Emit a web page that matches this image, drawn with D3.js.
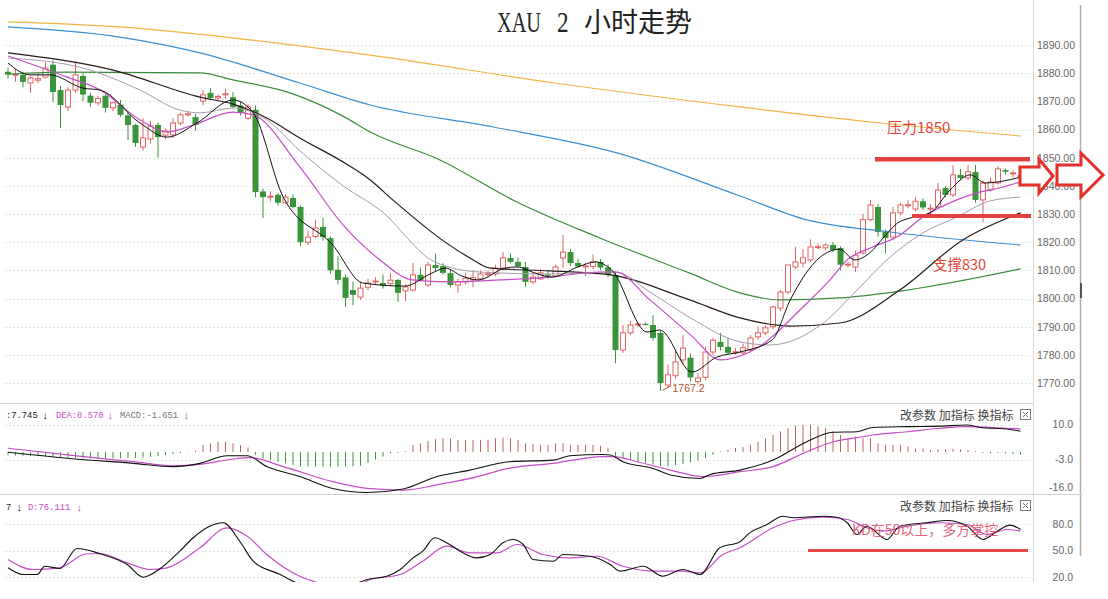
<!DOCTYPE html>
<html><head><meta charset="utf-8">
<script src="https://cdn.jsdelivr.net/npm/d3@7"></script>
<style>body{margin:0;background:#fff;}svg{display:block;}</style>
</head><body>
<svg id="c" width="1108" height="599"></svg>
<script>
// ---------- DATA ----------
const open = [
1880.5,1879.5,1879.4,1876.5,1877.5,1878.6,1883,1874,1868,1874,
1879,1872,1869.5,1872,1867.7,1868.8,1865,1861.6,1853.8,1856.6,
1861.6,1858,1858.1,1862.3,1865.2,1864.4,1870.1,1873,1871.2,1872.3,
1871.5,1868.5,1864,1867,1838,1836,1836.8,1834,1835.7,1832.5,
1820,1822,1825.4,1821.4,1810.2,1807.5,1803,1800.5,1804,1806.2,
1805.5,1805.3,1806.6,1802.7,1803,1808.4,1804.8,1811.9,1811.5,1809,
1804.8,1805.9,1806.6,1807,1808.7,1808.7,1810.8,1814.4,1813,1811.2,
1805.9,1807,1808.5,1808,1814.4,1816.5,1812.6,1811.3,1811.4,1813,
1811,1808.4,1781.7,1787.8,1790.8,1791,1790.6,1787.8,1769.3,1772.6,
1778.2,1779,1770.5,1772,1781,1784.6,1782.8,1781,1780.7,1781.7,
1786.4,1787.8,1790,1796.6,1802.3,1811.2,1812.6,1813.7,1818.3,1818,
1819,1817.9,1812,1811.2,1816.2,1828,1832.5,1823.6,1821.8,1830.4,
1833.2,1831.8,1834.5,1832,1832.5,1839.2,1836.8,1843.9,1842.8,1844.9,
1835,1838.5,1841,1845.6,1844.5,1843.5];
const high = [
1882,1881.5,1880.5,1879,1880,1884,1884.5,1875.5,1875,1883.6,
1880,1873,1872,1872.5,1870,1870.5,1866,1862,1864,1863,
1862.5,1860.5,1864,1866,1866.5,1865.5,1874,1874.7,1872.5,1874.5,
1873.3,1870,1869,1868.5,1839,1838,1837.5,1837,1837,1833,
1824,1828,1828.6,1822,1815,1808.5,1806,1806,1807,1807.5,
1808.5,1809,1807,1805,1812.6,1811,1813,1816,1812.5,1810.5,
1807,1809,1810,1810,1810,1812,1816.5,1816,1814.5,1813,
1809,1810.5,1810,1812,1822.6,1817.5,1814,1812.5,1815.6,1814,
1812,1809.5,1790.6,1792,1791.5,1791.5,1794,1788.5,1776.5,1781.7,
1787,1780.5,1773.5,1783,1786,1787.8,1786,1782.5,1784,1787,
1790,1790.5,1797.5,1803,1812,1818.3,1817.5,1821,1819.5,1819.5,
1820,1818.5,1813,1817,1830,1835,1833.5,1824.5,1832.5,1834,
1835,1836,1835.5,1833.5,1841,1840,1847.4,1846,1847.4,1847.4,
1842,1843,1847,1846,1845.5,1844];
const low = [
1878,1877,1875,1873,1876.5,1878,1869.8,1860.5,1866.5,1873,
1870,1868,1868.5,1866,1866.5,1864.5,1856.3,1853.8,1852.5,1855,
1850,1856.5,1857,1861.5,1864.5,1859.5,1868.5,1870.5,1870.5,1871,
1867.5,1865,1863.5,1836,1828.6,1834.5,1833,1833.5,1832,1818.6,
1819,1821.5,1820.5,1808.8,1805,1797,1797.6,1799.5,1803,1805,
1803.5,1804.5,1798.8,1799,1802.5,1806,1804,1809.5,1808.5,1804,
1802,1805,1804,1806.5,1807.5,1808,1810,1812.5,1811,1804.1,
1805,1806.5,1807,1807.5,1810.8,1811.5,1811,1808,1810.5,1810,
1807.5,1777,1780.7,1787,1790,1790.5,1785,1767.2,1768.5,1771.5,
1777,1770.5,1769.5,1771,1780,1781.5,1780,1780,1780,1781,
1785.5,1787,1789,1795.5,1801.5,1810.5,1811,1813,1817.5,1817,
1816.5,1810,1811,1809.4,1815.5,1827.5,1822,1816,1821,1829.5,
1832,1831,1831.5,1830,1832,1836,1836,1842,1842,1834,
1827,1838,1840.5,1844,1843,1843];
const close = [
1879.5,1879.6,1876.9,1878.3,1878,1881.8,1873.3,1868.7,1874,1879.4,
1872.4,1869.5,1871,1867.7,1869.5,1865.2,1861.6,1855.2,1857,1861.2,
1857.3,1859.5,1862.3,1865.2,1865.6,1861.6,1872.3,1871.2,1871.7,1872.7,
1868,1865.9,1868,1837.8,1836,1836.3,1834,1836,1832.5,1820,
1821.8,1825,1821.8,1810,1806.6,1800.2,1801.3,1803.7,1805.5,1806.2,
1804.5,1806.5,1802,1804.1,1808.4,1806.6,1811.9,1810.8,1809.1,1804.8,
1806,1807.2,1807.5,1808.7,1808.8,1810.8,1814.4,1813,1811.5,1805.9,
1807.6,1809.1,1808.2,1811.2,1816.5,1812.6,1811.4,1811.6,1813,1811,
1808.4,1781.7,1787.8,1790.6,1791,1790.9,1786,1770,1772.9,1777.5,
1782.4,1772,1771.8,1781,1785.2,1782.8,1780.7,1781.1,1782.5,1786,
1787.8,1789.6,1797,1802.3,1811.9,1813,1814.4,1818.3,1818.4,1819,
1817.2,1812,1812.2,1815.4,1828,1833.2,1823.6,1821.5,1830.4,1833.2,
1833.3,1834.5,1832.3,1832.1,1838.5,1836.8,1843.9,1842.8,1845,1835,
1841,1841.4,1846,1845,1844.6,1843.6];

// moving averages [candle index, price]
const ma5 = [[0,1883.6],[2.9,1879.4],[5.6,1879.4],[10,1874.7],[12.3,1874],[17.6,1862.3],[21.2,1857.3],[25.2,1862.3],[30,1870.5],[32.7,1865.9],[36.7,1836],[43.3,1819],[47.3,1805.5],[52.9,1804.4],[56.5,1809],[58.3,1810.8],[60.5,1808],[62.7,1806.6],[66.3,1810.8],[68,1811.2],[69.9,1809.4],[72.5,1807.6],[76,1811.2],[78.3,1813],[80.5,1810.1],[85.2,1788.1],[86.9,1788.8],[91.2,1773.9],[94.5,1779.2],[97.6,1781],[101.9,1785.3],[104.3,1799.5],[108.3,1814.7],[110.9,1817.5],[112.9,1813.7],[114.9,1816.2],[116.8,1821.8],[118.6,1826.8],[120.3,1828.6],[123,1830.5],[125.6,1838.5],[128.3,1843.9],[130.3,1841],[132.3,1841.5],[135,1843.1]];
const ma10 = [[0,1886.1],[7.9,1878.6],[12.3,1874],[17.6,1863.4],[21.2,1859.1],[24.7,1861.6],[30,1866.2],[32.7,1865.2],[38.9,1846.7],[44.9,1825.4],[49.6,1813.7],[53.9,1806.6],[58.9,1805.9],[65.6,1806.6],[72.3,1807.6],[78.9,1809.4],[81,1809.4],[85.6,1799.5],[91,1787.1],[95,1778.2],[99.9,1782.4],[106,1797],[109.6,1806.6],[111.9,1813.7],[115.3,1818.3],[118.5,1821.8],[122,1828.9],[126.5,1835],[129.2,1837.5],[132.7,1839.6],[135,1841.4]];
const ma20 = [[0,1885.4],[10,1881.8],[17.6,1874],[22.9,1866.9],[25.6,1865.9],[30,1867.6],[34.5,1863.4],[38.9,1852.5],[44.9,1839.6],[49.6,1831.4],[56.9,1813],[62.9,1809.4],[72.3,1808.7],[81,1809.4],[85.6,1802.3],[91,1793.1],[97.6,1784.6],[101.6,1783.5],[108.7,1791.3],[113.2,1803],[117.6,1814.7],[122,1823.3],[126.5,1828.9],[130.9,1834.6],[135,1836]];
const ma30 = [[0,1887.2],[14,1881.1],[25.6,1871.5],[30,1869],[34.5,1864.1],[38.9,1857],[44.9,1848.1],[48.3,1842.1],[51.3,1835],[61.6,1814.4],[64.3,1810.8],[72.3,1809.8],[80.3,1808.4],[90.9,1799.5],[97.6,1793.1],[104.3,1790.2],[110.9,1791.3],[118.9,1803],[127.3,1820.8],[135,1830.4]];
const ma60 = [[0,1879.7],[7.9,1880.4],[25.6,1880.1],[30,1877.6],[37.6,1873],[44.9,1864.4],[48.3,1859.1],[57.6,1849.2],[67.3,1835],[78.9,1821.5],[90.9,1809],[97.6,1802],[102.9,1799.5],[110.9,1800.2],[119.9,1803],[135,1810.5]];
const ma120 = [[0,1896.4],[14.9,1892.8],[25.6,1887.2],[38.9,1876.5],[48.3,1868.7],[64.7,1860.9],[81.2,1851.7],[97.6,1836.4],[106.5,1827.9],[117.6,1823.6],[135,1819]];
const ma250 = [[0,1898.2],[14.9,1896.4],[32.3,1891.8],[48.3,1886.4],[72.9,1876.5],[97.6,1868],[116.3,1862.3],[135,1857.7]];

// MACD
const macdHist = [
-1.2,-1.3,-1.4,-1.5,-1.5,-1.5,-1.6,
-1.8,-2,-2.2,-2.3,-2.4,-2.5,-2.5,-2.4,-2.3,-2.2,-2.2,-2,-1.8,-1.5,-1.2,-0.8,
-0.4,-0.1,
0.5,2.6,3.2,3.8,3.8,3.2,2.6,1.7,
-1,
-2.3,-3,-3.6,-4.2,-4.8,-5.4,-5.4,-5.5,-5.5,-5.5,-5.4,-5.4,-5.3,-5.1,-4,
-2.8,-1.7,-0.5,-0.3,0.3,
2.6,3.2,4.1,4.8,5.1,5.1,4.4,4.4,4.4,4.4,4.6,5.1,5.3,5.1,4.4,3.2,2.9,2.6,2.6,3.2,3.2,2.6,2.6,2.6,2.6,2.3,1.6,
-1.7,-2.3,-2.8,-3.5,-4.1,-4.6,-5.2,-5.4,-4.9,-4.4,-3.8,-3.2,-2.3,-1,0.2,0.8,1.5,
1.8,2.6,3.8,5.1,6.3,7.6,8.8,9.8,10.1,10.1,9.5,8.8,7.6,6.3,5.1,5.7,5.1,5.1,3.2,2.6,2.6,2.6,2,1.3,1.3,0.7,
1,1,1.2,1,0.8,0.3,-0.3,-0.5,-0.3,-0.5,-0.8,-1];
const dif = [[0,-0.1],[7.9,-2.3],[16.7,-4.2],[22,-5.4],[25.6,-4.2],[29.2,-1.4],[31.9,-1.4],[34.5,-5.4],[38.9,-9.1],[43.3,-13.5],[47.9,-15],[52.7,-13.7],[57.2,-9.1],[61.6,-6.7],[66.9,-3.6],[72.7,-3],[74.9,-1.4],[79.3,-0.9],[80.3,-1.1],[82,-3.6],[86,-6.1],[88.3,-8.5],[92.3,-9.8],[93.6,-8.3],[97.6,-6.7],[102,-3],[106.5,3.8],[110,7.3],[113.2,7.5],[115.3,9.1],[119.9,9.4],[124.3,9.6],[127.9,10],[129.6,9.1],[133.2,8.5],[135,7.7]];
const dea = [[0,1.4],[7.9,-1.1],[16.7,-3.6],[22,-5.1],[25.6,-4.6],[30,-2.6],[32.3,-2.1],[36.7,-5.4],[43.3,-11],[47.9,-13.5],[52.7,-14.1],[57.2,-12.2],[61.6,-9.8],[66.9,-6],[72.7,-4.2],[79.3,-1.7],[80.7,-1.7],[83.9,-3.6],[88.3,-6.7],[92.7,-9.1],[97.6,-7.3],[102,-5.4],[106.5,0.1],[110,3.8],[113.2,5.3],[115.3,6.3],[119.9,7.5],[124.3,8.8],[127.9,9.4],[133.2,8.8],[135,8.6]];

// KDJ
const kLine = [[0,30.4],[2,22.8],[3.9,22.8],[4.9,32.2],[6.9,29.6],[9.2,52.3],[12.3,46.3],[15.9,34.1],[18,19.8],[20.3,29.6],[22.9,49.2],[24.7,64.4],[26.5,75.7],[28.7,81.4],[30.9,60.5],[32.7,37.9],[36.3,22.8],[38,15.2],[40.9,9],[44.3,7],[47.9,17.2],[50.5,20.9],[52.3,28.5],[54,41.7],[55.3,49.2],[56.9,64.4],[58.5,58.7],[60.3,49.2],[62.5,41.7],[64.3,45.5],[66,58.7],[67.3,62.5],[68.7,56.8],[70,39.8],[72.7,37.9],[74,45.5],[77.6,43.5],[80.3,34.1],[81.6,26.6],[84.7,32.2],[87.3,20.9],[90,28.5],[92.3,22.8],[94.9,53.1],[97.6,60],[98.9,70],[101.2,79.4],[103.3,88.8],[104.7,87],[108.7,88.8],[110.5,87.7],[111.9,81.4],[113.2,68.1],[114.5,77.5],[117.2,62.5],[118.9,77.5],[122.5,81.4],[125.2,84],[127.9,77.5],[130,62.5],[131.9,71.9],[133.6,78.7],[135,73.8]];
const dLine = [[0,39.8],[3.3,28.5],[6.9,30.4],[10.5,46.3],[12.3,46.3],[15.9,36],[18.9,28.5],[21.2,30.4],[25.6,53.1],[29.2,75.7],[31.9,66.2],[34.5,45.5],[38.9,20.9],[40.7,15.2],[43.6,8],[46.9,12],[48.3,17.2],[52.3,22.8],[55.3,37.9],[58.5,54.9],[61.6,47.4],[65.2,47.4],[67.9,56.8],[71.3,45.5],[74.9,41.7],[78.5,43.5],[82,32.2],[86.5,26.6],[90,26.6],[92.3,24.7],[95.3,45.5],[97.6,53.1],[102,75.7],[104.7,84],[108.7,87.7],[111.9,85.1],[114.5,75.7],[116.7,71.9],[119.9,77.5],[124.3,81.4],[127.9,79.4],[130.5,68.1],[133.2,73.8],[135,71.9]];

// tick labels / header values
const priceTicks = [1770,1780,1790,1800,1810,1820,1830,1840,1850,1860,1870,1880,1890];
const macdTicks = [10,-3,-16];
const kdjTicks = [80,50,20];
const difLast = "7.745", deaLast = "8.570", macdLast = "-1.651", dLast = "76.111";
const resistance = 1850, support = 1830, kdLevel = 50;

// ---------- DRAW ----------
const svg = d3.select('#c');
const N = close.length;
const candles = d3.range(N).map(i => ({i, o: open[i], h: high[i], l: low[i], c: close[i]}));

const x = d3.scaleLinear().domain([0, 135]).range([8, 1020.5]);
const yP = d3.scaleLinear().domain([1770, 1890]).range([383, 45]);
const yM = d3.scaleLinear().domain([0, 10]).range([452, 425]);
const yK = d3.scaleLinear().domain([20, 80]).range([577, 524]);

const defs = svg.append('defs');
defs.append('clipPath').attr('id','cpMain').append('rect').attr('x',0).attr('y',0).attr('width',1032).attr('height',402);
defs.append('clipPath').attr('id','cpMacd').append('rect').attr('x',0).attr('y',404).attr('width',1032).attr('height',89.5);
defs.append('clipPath').attr('id','cpKdj').append('rect').attr('x',0).attr('y',495).attr('width',1032).attr('height',87);

const gridCol = '#e2e2e2';
svg.append('g').selectAll('line').data(priceTicks).join('line')
  .attr('x1',5).attr('x2',1030).attr('y1',d=>Math.round(yP(d))+0.5).attr('y2',d=>Math.round(yP(d))+0.5)
  .attr('stroke',gridCol).attr('stroke-dasharray','2,2');
svg.append('g').selectAll('line').data(macdTicks.filter(d=>d>-10)).join('line')
  .attr('x1',5).attr('x2',1030).attr('y1',d=>Math.round(yM(d))+0.5).attr('y2',d=>Math.round(yM(d))+0.5)
  .attr('stroke',gridCol).attr('stroke-dasharray','2,2');
svg.append('g').selectAll('line').data(kdjTicks).join('line')
  .attr('x1',5).attr('x2',1030).attr('y1',d=>Math.round(yK(d))+0.5).attr('y2',d=>Math.round(yK(d))+0.5)
  .attr('stroke',gridCol).attr('stroke-dasharray','2,2');

// frame lines
svg.append('line').attr('x1',1033.5).attr('x2',1033.5).attr('y1',0).attr('y2',582).attr('stroke','#d8d8d8');
svg.append('line').attr('x1',1080.5).attr('x2',1080.5).attr('y1',5).attr('y2',556).attr('stroke','#b0b0b0').attr('stroke-width',1.5);
svg.append('rect').attr('x',1080).attr('y',283).attr('width',2).attr('height',15).attr('fill','#555');
svg.append('line').attr('x1',0).attr('x2',1033).attr('y1',403.5).attr('y2',403.5).attr('stroke','#d0d0d0');
svg.append('line').attr('x1',0).attr('x2',1083).attr('y1',494.5).attr('y2',494.5).attr('stroke','#d0d0d0');

// title
const serif = 'Liberation Serif, DejaVu Serif, serif';
svg.append('text').attr('transform','translate(497,32) scale(0.7,1)')
  .attr('font-family',serif).attr('font-size',29).attr('fill','#222').text('XAU');
svg.append('text').attr('transform','translate(557,32) scale(0.8,1)')
  .attr('font-family',serif).attr('font-size',29).attr('fill','#222').text('2');
svg.append('text').attr('x',584).attr('y',32).attr('font-family','Noto Sans CJK SC').attr('font-size',27)
  .attr('fill','#222').text('小时走势');

// ---- main panel ----
const gMain = svg.append('g').attr('clip-path','url(#cpMain)');
const RED = '#e06464', GREEN = '#3a953a';
const cw = 5;
const cg = gMain.append('g');
candles.forEach(d => {
  const up = d.c >= d.o;
  const cx = x(d.i);
  const top = yP(Math.max(d.o, d.c)), bot = yP(Math.min(d.o, d.c));
  const col = up ? RED : GREEN;
  if (up) {
    cg.append('line').attr('x1',cx).attr('x2',cx).attr('y1',yP(d.h)).attr('y2',top).attr('stroke',col);
    cg.append('line').attr('x1',cx).attr('x2',cx).attr('y1',bot).attr('y2',yP(d.l)).attr('stroke',col);
    const hgt = Math.max(bot - top, 1);
    cg.append('rect').attr('x',cx - cw/2).attr('y',top).attr('width',cw).attr('height',hgt)
      .attr('fill','#fff').attr('stroke',col).attr('stroke-width',1);
  } else {
    cg.append('line').attr('x1',cx).attr('x2',cx).attr('y1',yP(d.h)).attr('y2',yP(d.l)).attr('stroke',col);
    cg.append('rect').attr('x',cx - cw/2 - 0.5).attr('y',top).attr('width',cw+1).attr('height',Math.max(bot - top, 1.2))
      .attr('fill',col);
  }
});

const lineP = d3.line().x(d=>x(d[0])).y(d=>yP(d[1])).curve(d3.curveMonotoneX);
const maDefs = [
  [ma250,'#f1b443',1.2],[ma120,'#3a8fd2',1.2],[ma60,'#3d8c3d',1.2],
  [ma30,'#2a1a1a',1.2],[ma20,'#a99ab3',1],[ma10,'#c64dc6',1.2],[ma5,'#111',1]
];
maDefs.forEach(([data,col,w]) => {
  gMain.append('path').attr('d',lineP(data)).attr('fill','none').attr('stroke',col).attr('stroke-width',w);
});

// low label
const lowIdx = d3.minIndex(low);
const lx = x(lowIdx), ly = yP(low[lowIdx]);
svg.append('line').attr('x1',lx+2).attr('y1',ly-0.5).attr('x2',lx+10).attr('y2',ly-5).attr('stroke','#b5552b');
svg.append('text').attr('x',lx+12).attr('y',ly+1.5).attr('font-family','Liberation Sans, Arial').attr('font-size',10.5)
  .attr('fill','#b5552b').text(low[lowIdx].toFixed(1));

// price axis
const axP = svg.append('g').attr('transform','translate(1075,0)')
  .call(d3.axisLeft(yP).tickValues(priceTicks).tickSize(0).tickPadding(0).tickFormat(d=>d.toFixed(2)));
axP.select('.domain').remove();
axP.attr('font-family','Liberation Sans, Arial').attr('font-size',10.5);
axP.selectAll('text').attr('fill','#666');

// ---- MACD panel ----
const gMacd = svg.append('g').attr('clip-path','url(#cpMacd)');
gMacd.selectAll('line').data(macdHist).join('line')
  .attr('x1',(d,i)=>x(i)).attr('x2',(d,i)=>x(i))
  .attr('y1',yM(0)).attr('y2',d=>yM(d))
  .attr('stroke',d=> d>=0 ? '#c0605a' : '#3e943e').attr('stroke-width',1);
const lineM = d3.line().x(d=>x(d[0])).y(d=>yM(d[1])).curve(d3.curveMonotoneX);
gMacd.append('path').attr('d',lineM(dea)).attr('fill','none').attr('stroke','#c64dc6').attr('stroke-width',1.2);
gMacd.append('path').attr('d',lineM(dif)).attr('fill','none').attr('stroke','#111').attr('stroke-width',1.1);

const axM = svg.append('g').attr('transform','translate(1073,0)')
  .call(d3.axisLeft(yM).tickValues(macdTicks).tickSize(0).tickPadding(0).tickFormat(d=>d.toFixed(1)));
axM.select('.domain').remove();
axM.attr('font-family','Liberation Sans, Arial').attr('font-size',10.5);
axM.selectAll('text').attr('fill','#666');
axM.selectAll('.tick').attr('transform', d => `translate(0,${Math.min(yM(d), 488)})`);

// ---- KDJ panel ----
const gK = svg.append('g').attr('clip-path','url(#cpKdj)');
const lineK = d3.line().x(d=>x(d[0])).y(d=>yK(d[1])).curve(d3.curveMonotoneX);
gK.append('path').attr('d',lineK(dLine)).attr('fill','none').attr('stroke','#c64dc6').attr('stroke-width',1.2);
gK.append('path').attr('d',lineK(kLine)).attr('fill','none').attr('stroke','#111').attr('stroke-width',1.1);

const axK = svg.append('g').attr('transform','translate(1073,0)')
  .call(d3.axisLeft(yK).tickValues(kdjTicks).tickSize(0).tickPadding(0).tickFormat(d=>d.toFixed(1)));
axK.select('.domain').remove();
axK.attr('font-family','Liberation Sans, Arial').attr('font-size',10.5);
axK.selectAll('text').attr('fill','#666');

// ---- headers ----
const mono = 'Liberation Mono, DejaVu Sans Mono, monospace';
function hText(xp, yp, txt, col, fs) {
  svg.append('text').attr('x',xp).attr('y',yp).attr('font-family',mono).attr('font-size',fs || 8.8).attr('fill',col).text(txt);
}
hText(6,418,':' + difLast,'#222'); hText(42,419,'↓','#222',11);
hText(56,418,'DEA:' + deaLast,'#c64dc6'); hText(107,419,'↓','#c64dc6',11);
hText(120,418,'MACD:' + macdLast,'#777'); hText(183,419,'↓','#777',11);
hText(6,510,'7','#222'); hText(16,511,'↓','#222',11);
hText(28,510,'D:' + dLast,'#c64dc6'); hText(76,511,'↓','#c64dc6',11);

[420, 511].forEach(yb => {
  svg.append('text').attr('x',900).attr('y',yb).attr('font-family','Noto Sans CJK SC').attr('font-size',12)
    .attr('fill','#444').text('改参数 加指标 换指标');
  const bx = 1020, by = yb - 11;
  svg.append('rect').attr('x',bx+0.5).attr('y',by+0.5).attr('width',10).attr('height',10).attr('fill','none').attr('stroke','#777');
  svg.append('path').attr('d',`M${bx+3},${by+3}L${bx+8},${by+8}M${bx+8},${by+3}L${bx+3},${by+8}`).attr('stroke','#777');
});

// ---- annotations ----
const ANN = '#e2453a';
svg.append('line').attr('x1',875).attr('x2',1030).attr('y1',yP(resistance)+1.5).attr('y2',yP(resistance)+1.5)
  .attr('stroke','#e44040').attr('stroke-width',4.5);
svg.append('text').attr('x',887).attr('y',133).attr('font-family','Noto Sans CJK SC').attr('font-size',15)
  .attr('fill',ANN).text('压力' + resistance);
svg.append('line').attr('x1',912).attr('x2',1031).attr('y1',yP(support)+2).attr('y2',yP(support)+2)
  .attr('stroke','#e44040').attr('stroke-width',4);
svg.append('text').attr('x',933).attr('y',270).attr('font-family','Noto Sans CJK SC').attr('font-size',14.5)
  .attr('fill',ANN).text('支撑' + String(support).slice(1));
svg.append('line').attr('x1',808).attr('x2',1028).attr('y1',yK(kdLevel)).attr('y2',yK(kdLevel))
  .attr('stroke','#e44848').attr('stroke-width',3);
svg.append('text').attr('x',852).attr('y',535).attr('font-family','Noto Sans CJK SC').attr('font-size',14)
  .attr('fill','#e2506a').attr('fill-opacity',0.9).text('KD在' + kdLevel + '以上，多方掌控');

// arrows
function arrow(x0, x1, yc, sh, hh, hl) {
  const xb = x1 - hl;
  const pts = [[x0,yc-sh],[xb,yc-sh],[xb,yc-hh],[x1,yc],[xb,yc+hh],[xb,yc+sh],[x0,yc+sh]];
  svg.append('path').attr('d','M'+pts.map(p=>p.join(',')).join('L')+'Z')
    .attr('fill','#fff').attr('stroke','#e2302a').attr('stroke-width',3).attr('stroke-linejoin','miter');
}
arrow(1020, 1053, 176, 9, 17, 14);
arrow(1057, 1103, 175, 10, 22, 22);
</script>
</body></html>
